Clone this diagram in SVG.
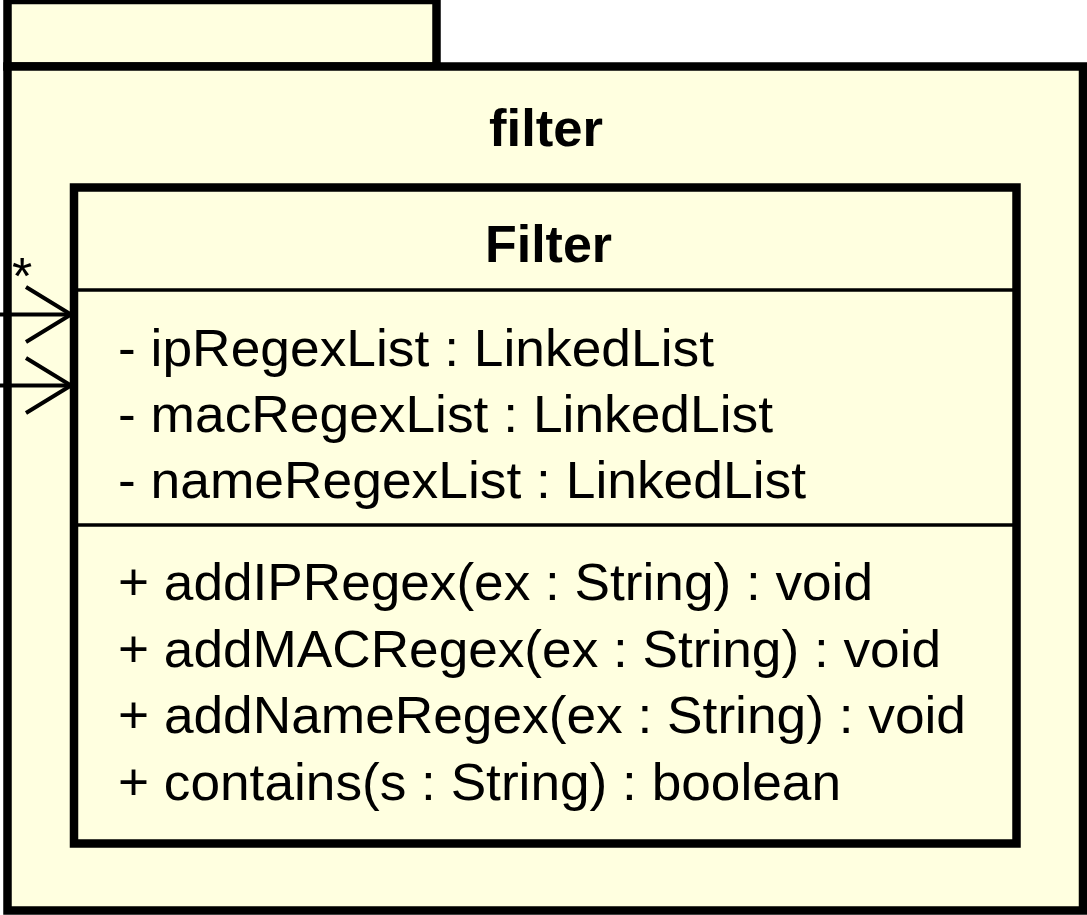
<svg xmlns="http://www.w3.org/2000/svg" width="1087" height="915" viewBox="0 0 1087 915">
<style>
.box{fill:#ffffe0;stroke:#000;stroke-width:8.5}
.sep{stroke:#000;stroke-width:3.5}
.t{font-family:"Liberation Sans",Arial,sans-serif;font-size:52px;fill:#000}
.b{font-family:"Liberation Sans",Arial,sans-serif;font-size:52px;font-weight:bold;fill:#000}
.conn{fill:none;stroke:#000;stroke-width:4}
</style>
<rect width="1087" height="915" fill="#fff"/>
<g id="package-filter">
<rect class="box" x="7.5" y="0" width="429" height="66.5"/>
<rect class="box" x="7.5" y="66.5" width="1075.5" height="844"/>
<text class="b" x="489" y="146" textLength="114" lengthAdjust="spacingAndGlyphs">filter</text>
</g>
<g id="class-Filter">
<rect class="box" x="74" y="187.5" width="942.5" height="656"/>
<line class="sep" x1="74" y1="290" x2="1016" y2="290"/>
<line class="sep" x1="74" y1="525" x2="1016" y2="525"/>
<text class="b" x="485" y="262" textLength="127" lengthAdjust="spacingAndGlyphs">Filter</text>
<text class="t" x="118" y="366" textLength="596" lengthAdjust="spacingAndGlyphs">- ipRegexList : LinkedList</text>
<text class="t" x="118" y="432" textLength="655" lengthAdjust="spacingAndGlyphs">- macRegexList : LinkedList</text>
<text class="t" x="118" y="498" textLength="688" lengthAdjust="spacingAndGlyphs">- nameRegexList : LinkedList</text>
<text class="t" x="118" y="600" textLength="755" lengthAdjust="spacingAndGlyphs">+ addIPRegex(ex : String) : void</text>
<text class="t" x="118" y="667" textLength="823" lengthAdjust="spacingAndGlyphs">+ addMACRegex(ex : String) : void</text>
<text class="t" x="118" y="733" textLength="848" lengthAdjust="spacingAndGlyphs">+ addNameRegex(ex : String) : void</text>
<text class="t" x="118" y="800" textLength="723" lengthAdjust="spacingAndGlyphs">+ contains(s : String) : boolean</text>
</g>
<g id="connectors">
<line class="conn" x1="0" y1="314.5" x2="72" y2="314.5"/>
<polyline class="conn" points="26,287 71,314.5 26,342"/>
<line class="conn" x1="0" y1="385.5" x2="72" y2="385.5"/>
<polyline class="conn" points="26,358 71,385.5 26,413"/>
<text x="22" y="294" font-family="Liberation Sans, Arial, sans-serif" font-size="52" text-anchor="middle">*</text>
</g>
</svg>
